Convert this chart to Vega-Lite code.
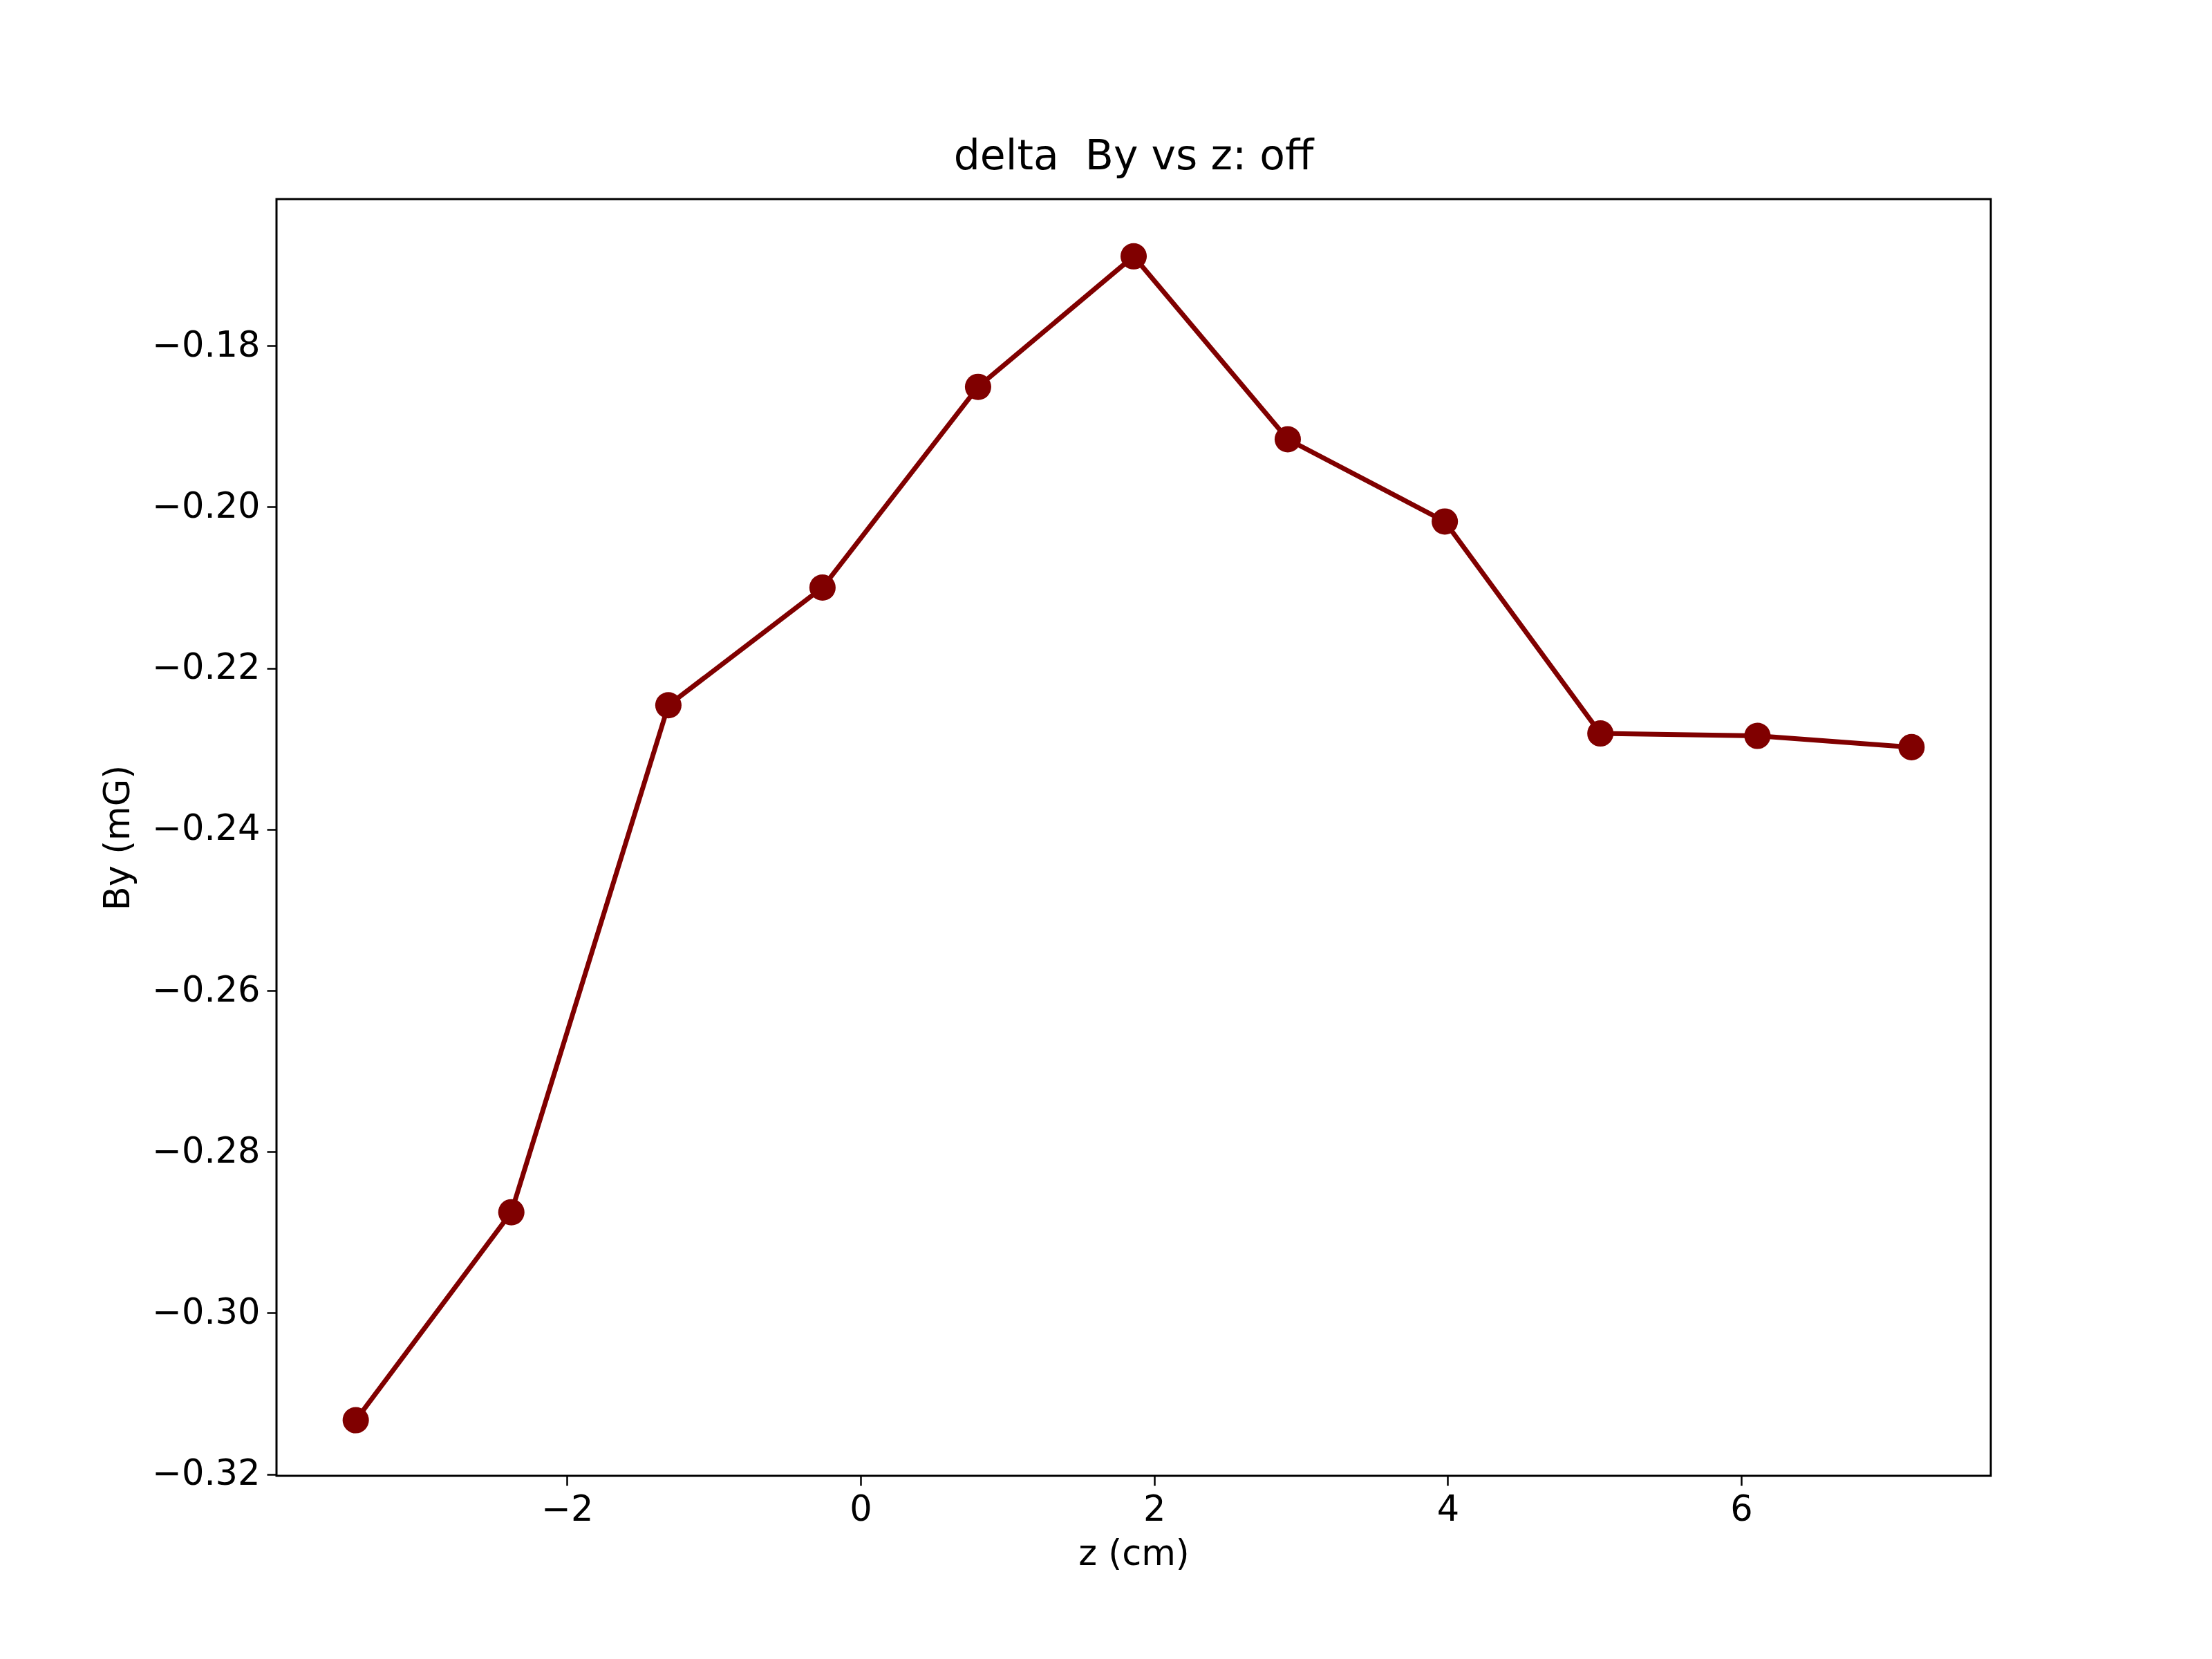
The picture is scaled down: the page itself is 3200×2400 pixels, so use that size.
{
  "$schema": "https://vega.github.io/schema/vega-lite/v6.json",
  "width": 2480,
  "height": 1847,
  "autosize": {"type": "none"},
  "padding": {"left": 400, "top": 288, "right": 320, "bottom": 265},
  "background": "white",
  "title": {"text": "delta \u00a0By vs z: off", "font": "DejaVu Sans", "fontSize": 60, "fontWeight": "normal", "color": "black", "offset": 30},
  "config": {
    "view": {"stroke": "black", "strokeWidth": 3},
    "axis": {"labelFont": "DejaVu Sans", "titleFont": "DejaVu Sans", "labelFontSize": 51, "titleFontSize": 51, "titleFontWeight": "normal", "grid": false, "domain": false, "tickColor": "black", "tickWidth": 2.5, "tickSize": 14, "labelColor": "black", "titleColor": "black", "labelPadding": 10}
  },
  "data": {"values": [
    {"z": -3.44, "By": -0.3133},
    {"z": -2.38, "By": -0.2875},
    {"z": -1.31, "By": -0.2246},
    {"z": -0.26, "By": -0.2100},
    {"z": 0.80, "By": -0.1851},
    {"z": 1.86, "By": -0.1689},
    {"z": 2.91, "By": -0.1916},
    {"z": 3.98, "By": -0.2018},
    {"z": 5.04, "By": -0.2281},
    {"z": 6.11, "By": -0.2284},
    {"z": 7.16, "By": -0.2298}
  ]},
  "encoding": {
    "x": {"field": "z", "type": "quantitative", "title": "z (cm)", "scale": {"domain": [-3.98, 7.70], "nice": false, "zero": false}, "axis": {"values": [-2, 0, 2, 4, 6], "format": "d", "titlePadding": 14}},
    "y": {"field": "By", "type": "quantitative", "title": "By (mG)", "scale": {"domain": [-0.3202, -0.1618], "nice": false, "zero": false}, "axis": {"values": [-0.32, -0.30, -0.28, -0.26, -0.24, -0.22, -0.20, -0.18], "format": ".2f", "titlePadding": 22}}
  },
  "layer": [
    {"mark": {"type": "line", "color": "#800000", "strokeWidth": 7}},
    {"mark": {"type": "circle", "color": "#800000", "opacity": 1, "size": 1450}}
  ]
}
